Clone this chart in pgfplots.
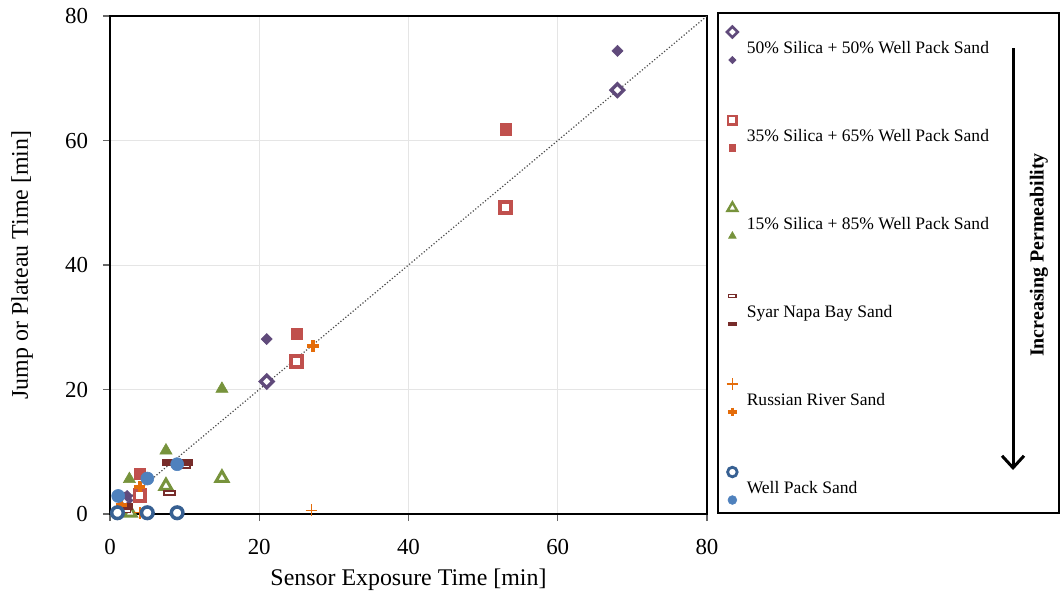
\documentclass[border=0pt]{standalone}
\usepackage{pgfplots}
\pgfplotsset{compat=1.18}
\usetikzlibrary{arrows.meta}
\usepackage{fontspec}
\setmainfont{Liberation Serif}

\definecolor{purp}{HTML}{604A7B}
\definecolor{redc}{HTML}{C0504D}
\definecolor{grn}{HTML}{77933C}
\definecolor{maroon}{HTML}{772C2A}
\definecolor{orng}{HTML}{E46C0A}
\definecolor{dblue}{HTML}{376092}
\definecolor{lblue}{HTML}{4F81BD}

% wide flat bar marker (Excel "dash")
\pgfdeclareplotmark{dashbar}{%
  \pgfpathrectangle{\pgfpoint{-\pgfplotmarksize}{-0.4\pgfplotmarksize}}{\pgfpoint{2\pgfplotmarksize}{0.8\pgfplotmarksize}}%
  \pgfusepathqfillstroke}

% legend picture: open marker above, filled marker below
\newcommand{\legpair}[2]{%
  \path (-4.5bp,-8bp) (4.5bp,16bp);
  \draw[#1] plot coordinates {(0bp,10.5bp)};
  \draw[#2] plot coordinates {(0bp,-3.5bp)};}

\begin{document}
\begin{tikzpicture}[x=1bp,y=1bp]
\useasboundingbox (-55,-40.5) rectangle (475.5,257);
\begin{axis}[
  at={(0,0)}, anchor=south west,
  scale only axis, width=298.5bp, height=249bp,
  xmin=0, xmax=80, ymin=0, ymax=80,
  xtick={0,20,...,80}, ytick={0,20,...,80},
  grid=major, major grid style={black!10, line width=0.5bp},
  tick align=outside, tick pos=left,
  major tick length=3.5bp,
  tick style={black!60, line width=0.6bp},
  axis line style={line width=1bp},
  /pgf/number format/assume math mode=true,
  tick label style={font=\fontsize{11.5}{13}\selectfont},
  xticklabel style={yshift=-5.5bp},
  yticklabel style={xshift=-4bp},
  label style={font=\fontsize{12}{14}\selectfont},
  xlabel={Sensor Exposure Time [min]},
  ylabel={Jump or Plateau Time [min]},
  xlabel style={at={(axis description cs:0.5,-0.1325)}, anchor=center},
  ylabel style={at={(axis description cs:-0.1474,0.5)}, anchor=center},
  legend cell align=left,
  legend style={at={(axis description cs:1.0268,1.01406)}, anchor=north west,
    draw=none, fill=none, inner sep=0pt, outer sep=0pt,
    row sep=0pt, column sep=2.5bp,
    font=\fontsize{8.8}{10}\selectfont,
    nodes={inner sep=0pt, text height=22bp, text depth=22bp}},
]

% 1:1 reference line
\addplot[forget plot, densely dotted, black!70, line width=0.6bp] coordinates {(0,0) (80,80)};

% 50% Silica + 50% Well Pack Sand
\addplot[only marks, mark=square*, mark size=2.2bp,
  mark options={rotate=45, draw=purp, fill=white, line width=1.7bp},
  legend image code/.code={\legpair
    {mark=square*, mark size=1.9bp, mark options={rotate=45, draw=purp, fill=white, line width=1.3bp}}
    {mark=square*, mark size=1.3bp, mark options={rotate=45, draw=purp, fill=purp, line width=0.3bp}}}]
  coordinates {(68,68.1) (21,21.3) (2,2.2)};
\addlegendentry{50\% Silica + 50\% Well Pack Sand}
\addplot[forget plot, only marks, mark=square*, mark size=1.95bp,
  mark options={rotate=45, draw=purp, fill=purp, line width=0.3bp}]
  coordinates {(68,74.4) (21,28.1) (2.3,2.9)};

% 35% Silica + 65% Well Pack Sand
\addplot[only marks, mark=square*, mark size=2.7bp,
  mark options={draw=redc, fill=white, line width=1.9bp},
  legend image code/.code={\legpair
    {mark=square*, mark size=2.1bp, mark options={draw=redc, fill=white, line width=1.3bp}}
    {mark=square*, mark size=1.7bp, mark options={draw=redc, fill=redc, line width=0.3bp}}}]
  coordinates {(53,49.2) (25,24.5) (4,3.0)};
\addlegendentry{35\% Silica + 65\% Well Pack Sand}
\addplot[forget plot, only marks, mark=square*, mark size=2.8bp,
  mark options={draw=redc, fill=redc, line width=0.3bp}]
  coordinates {(53,61.8) (25,28.9) (4,6.5)};

% 15% Silica + 85% Well Pack Sand
\addplot[only marks, mark=triangle*, mark size=3.4bp,
  mark options={draw=grn, fill=white, line width=1.5bp},
  legend image code/.code={\legpair
    {mark=triangle*, mark size=2.8bp, mark options={draw=grn, fill=white, line width=1.2bp}}
    {mark=triangle*, mark size=2.2bp, mark options={draw=grn, fill=grn, line width=0.3bp}}}]
  coordinates {(15,5.8) (7.5,4.5) (2.7,0.2)};
\addlegendentry{15\% Silica + 85\% Well Pack Sand}
\addplot[forget plot, only marks, mark=triangle*, mark size=3.5bp,
  mark options={draw=grn, fill=grn, line width=0.3bp}]
  coordinates {(15,20.1) (7.5,10.2) (2.6,5.6)};

% Syar Napa Bay Sand
\addplot[only marks, mark=dashbar, mark size=2.8bp,
  mark options={draw=maroon, fill=white, line width=0.9bp},
  legend image code/.code={\legpair
    {mark=dashbar, mark size=1.8bp, mark options={draw=maroon, fill=white, line width=0.7bp}}
    {mark=dashbar, mark size=2bp, mark options={draw=maroon, fill=maroon, line width=0.5bp}}}]
  coordinates {(10,7.8) (8,3.4) (2,0.6)};
\addlegendentry{Syar Napa Bay Sand}
\addplot[forget plot, only marks, mark=dashbar, mark size=3.8bp,
  mark options={draw=maroon, fill=maroon, line width=0.5bp}]
  coordinates {(8,8.3) (10,8.3) (2,1.2)};

% Russian River Sand
\addplot[only marks, mark=+, mark size=2.9bp,
  mark options={draw=orng, line width=0.7bp},
  legend image code/.code={\legpair
    {mark=+, mark size=2.9bp, mark options={draw=orng, line width=0.6bp}}
    {mark=+, mark size=2.2bp, mark options={draw=orng, line width=1.6bp}}}]
  coordinates {(27,0.6) (4,0.2) (1,0.5)};
\addlegendentry{Russian River Sand}
\addplot[forget plot, only marks, mark=+, mark size=2.8bp,
  mark options={draw=orng, line width=2bp}]
  coordinates {(27.2,27.0) (4,4.4) (1.5,1.5)};

% Well Pack Sand
\addplot[only marks, mark=*, mark size=2.9bp,
  mark options={draw=dblue, fill=white, line width=1.75bp},
  legend image code/.code={\legpair
    {mark=*, mark size=2.4bp, mark options={draw=dblue, fill=white, line width=1.4bp}}
    {mark=*, mark size=2.2bp, mark options={draw=lblue, fill=lblue, line width=0.3bp}}}]
  coordinates {(1,0.2) (5,0.2) (9,0.2)};
\addlegendentry{Well Pack Sand}
\addplot[forget plot, only marks, mark=*, mark size=3.25bp,
  mark options={draw=lblue, fill=lblue, line width=0.3bp}]
  coordinates {(9,8.0) (5,5.7) (1.1,2.9)};

\end{axis}

% legend frame, arrow and its caption
\draw[line width=1.2bp] (304,0.5) rectangle (474.5,250.5);
\draw[line width=1.5bp, -{Straight Barb[length=6bp,width=11bp]}] (451.5,233) -- (451.5,22);
\node[rotate=90, font=\bfseries\fontsize{10}{12}\selectfont] at (464.5,129.5) {Increasing Permeability};
\end{tikzpicture}
\end{document}
